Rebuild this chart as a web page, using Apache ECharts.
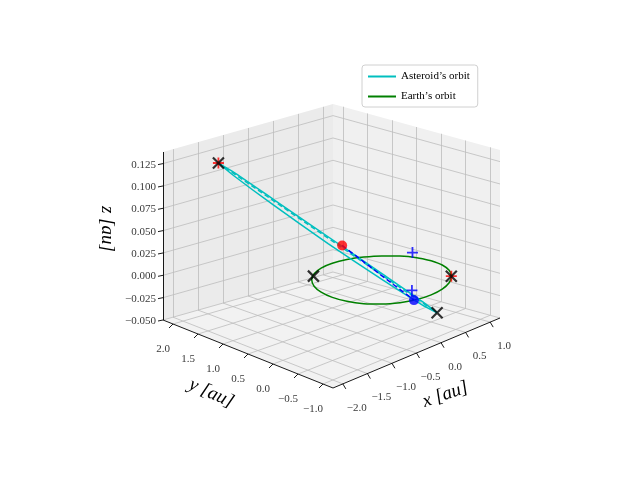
<!DOCTYPE html>
<html><head><meta charset="utf-8">
<script src="https://cdn.jsdelivr.net/npm/echarts@6/dist/echarts.min.js"></script>
<style>html,body{margin:0;padding:0;background:#fff}#c{width:640px;height:480px}</style>
</head><body><div id="c"></div>
<script>
// ---- data ----
const xTicks = [-2.0,-1.5,-1.0,-0.5,0.0,0.5,1.0];
const yTicks = [-1.0,-0.5,0.0,0.5,1.0,1.5,2.0];
const zTicks = [-0.05,-0.025,0.0,0.025,0.05,0.075,0.1,0.125];
const xTickLabels = ['−2.0','−1.5','−1.0','−0.5','0.0','0.5','1.0'];
const yTickLabels = ['−1.0','−0.5','0.0','0.5','1.0','1.5','2.0'];
const zTickLabels = ['−0.050','−0.025','0.000','0.025','0.050','0.075','0.100','0.125'];
const xRange = [-2.2, 1.2];
const yRange = [-1.2, 2.2];
const zRange = [-0.05, 0.138];
const earthOrbit = [[1,0,0],[.966,.259,0],[.866,.5,0],[.707,.707,0],[.5,.866,0],[.259,.966,0],[0,1,0],[-.259,.966,0],[-.5,.866,0],[-.707,.707,0],[-.866,.5,0],[-.966,.259,0],[-1,0,0],[-.966,-.259,0],[-.866,-.5,0],[-.707,-.707,0],[-.5,-.866,0],[-.259,-.966,0],[0,-1,0],[.259,-.966,0],[.5,-.866,0],[.707,-.707,0],[.866,-.5,0],[.966,-.259,0],[1,0,0]];
const asteroidOrbit = [[0.05,-1.07,-0.02],[-0.056,-0.88,-0.0085],[-0.365,-0.383,0.020],[-0.795,0.29,0.058],[-1.23,0.957,0.095],[-1.554,1.44,0.1215],[-1.68,1.61,0.13],[-1.574,1.42,0.1185],[-1.265,0.923,0.090],[-0.835,0.25,0.052],[-0.40,-0.417,0.0149],[-0.076,-0.90,-0.0115],[0.05,-1.07,-0.02]];
const apsidesLine = [[-1.68,1.61,0.13],[0.05,-1.07,-0.02]];
const asteroidPos = [-0.70,0.10,0.050];
const earthPos = [-0.30,-0.95,0.0];
const blueCrosses = [[0.95,0.33,0.005],[-0.15,-0.76,0.004]];
const blackX = [[-1.68,1.61,0.13],[-0.58,0.80,0],[0.71,-0.70,0],[0.05,-1.07,-0.02]];
const redCrosses = [[-1.68,1.61,0.13],[0.71,-0.70,0]];

// ---- projection ----
function P(p){
  const u=(p[0]-xRange[0])/(xRange[1]-xRange[0]);
  const v=(p[1]-yRange[0])/(yRange[1]-yRange[0]);
  const w=(p[2]-zRange[0])/(zRange[1]-zRange[0]);
  return [333+167*u-170*v+3*u*v, 388-70*u-68*v+22*u*v-168*w];
}
const X0=xRange[0],X1=xRange[1],Y0=yRange[0],Y1=yRange[1],Z0=zRange[0],Z1=zRange[1];
const panes=[
  {pts:[[X0,Y0,Z0],[X1,Y0,Z0],[X1,Y1,Z0],[X0,Y1,Z0]],c:'#f2f2f2'},
  {pts:[[X0,Y1,Z0],[X1,Y1,Z0],[X1,Y1,Z1],[X0,Y1,Z1]],c:'#ebebeb'},
  {pts:[[X1,Y0,Z0],[X1,Y1,Z0],[X1,Y1,Z1],[X1,Y0,Z1]],c:'#f0f0f0'}
];
const grid=[];
xTicks.forEach(t=>{grid.push([[t,Y0,Z0],[t,Y1,Z0]]);grid.push([[t,Y1,Z0],[t,Y1,Z1]]);});
yTicks.forEach(t=>{grid.push([[X0,t,Z0],[X1,t,Z0]]);grid.push([[X1,t,Z0],[X1,t,Z1]]);});
zTicks.forEach(t=>{grid.push([[X0,Y1,t],[X1,Y1,t]]);grid.push([[X1,Y1,t],[X1,Y0,t]]);});
const axes=[[[X0,Y0,Z0],[X1,Y0,Z0]],[[X0,Y0,Z0],[X0,Y1,Z0]],[[X0,Y1,Z0],[X0,Y1,Z1]]];
const ticks=[];
xTicks.forEach(t=>{const a=P([t,Y0,Z0]);ticks.push([a,[a[0]+3,a[1]+5]]);});
yTicks.forEach(t=>{const a=P([X0,t,Z0]);ticks.push([a,[a[0]-4,a[1]+4]]);});
zTicks.forEach(t=>{const a=P([X0,Y1,t]);ticks.push([a,[a[0]-5,a[1]+1]]);});

const serif='"Liberation Serif","DejaVu Serif",serif';
function labelScatter(pts,labels,dx,dy,align){
  return {type:'scatter',symbolSize:0,silent:true,z:5,
    data:pts.map((p,i)=>({value:p,label:{formatter:labels[i]}})),
    label:{show:true,position:'inside',offset:[dx,dy],align:align,verticalAlign:'middle',color:'#000',fontSize:11,fontFamily:serif}};
}
const xs='path://M0,0L10,10M10,0L0,10';
const ps='path://M5,0L5,10M0,5L10,5';
const series=[
  {type:'custom',silent:true,z:1,renderItem:(params,api)=>{
    const pn=panes[params.dataIndex];
    return {type:'polygon',shape:{points:pn.pts.map(q=>api.coord(P(q)))},style:{fill:pn.c,stroke:'none'}};
  },data:panes.map((p,i)=>[i,0])},
  {type:'lines',coordinateSystem:'cartesian2d',silent:true,z:2,lineStyle:{color:'#bcbcbc',width:0.8,opacity:1},
    data:grid.map(g=>({coords:[P(g[0]),P(g[1])]}))},
  {type:'lines',coordinateSystem:'cartesian2d',silent:true,z:3,lineStyle:{color:'#000',width:0.9,opacity:1},
    data:axes.map(g=>({coords:[P(g[0]),P(g[1])]})).concat(ticks.map(t=>({coords:t})))},
  labelScatter(xTicks.map(t=>P([t,Y0,Z0])),xTickLabels,14,24,'center'),
  labelScatter(yTicks.map(t=>P([X0,t,Z0])),yTickLabels,-10,25,'center'),
  labelScatter(zTicks.map(t=>P([X0,Y1,t])),zTickLabels,-7,1,'right'),
  {name:"Earth’s orbit",type:'line',smooth:0.3,symbol:'none',z:6,lineStyle:{color:'#008000',width:1.5},itemStyle:{color:'#008000'},data:earthOrbit.map(P)},
  {name:"Asteroid’s orbit",type:'line',smooth:0.2,symbol:'none',z:7,lineStyle:{color:'#00bfbf',width:1.5},itemStyle:{color:'#00bfbf'},data:asteroidOrbit.map(P)},
  {type:'line',symbol:'none',z:7,lineStyle:{color:'#00bfbf',width:1.5,type:[5,3]},data:apsidesLine.map(P)},
  {type:'line',symbol:'none',z:8,lineStyle:{color:'#0000ff',width:1.5,type:[5,3]},data:[asteroidPos,earthPos].map(P)},
  {type:'scatter',symbol:'circle',symbolSize:10,z:9,itemStyle:{color:'#ff0000'},data:[P(asteroidPos)]},
  {type:'scatter',symbol:'circle',symbolSize:10,z:9,itemStyle:{color:'#0000ff'},data:[P(earthPos)]},
  {type:'scatter',symbol:ps,symbolSize:11,z:9,itemStyle:{color:'none',borderColor:'#0000ff',borderWidth:1.8},data:blueCrosses.map(P)},
  {type:'scatter',symbol:ps,symbolSize:11,z:9,itemStyle:{color:'none',borderColor:'#ff0000',borderWidth:1.8},data:redCrosses.map(P)},
  {type:'scatter',symbol:xs,symbolSize:11,z:10,itemStyle:{color:'none',borderColor:'#000',borderWidth:2.2},data:blackX.map(P)}
];
const chart=echarts.init(document.getElementById('c'),null,{renderer:'canvas'});
chart.setOption({
  animation:false,
  grid:{left:0,right:0,top:0,bottom:0},
  xAxis:{type:'value',min:0,max:640,show:false},
  yAxis:{type:'value',min:0,max:480,inverse:true,show:false},
  legend:{data:["Asteroid’s orbit","Earth’s orbit"],left:362,top:65,orient:'vertical',icon:'rect',itemWidth:28,itemHeight:2,itemGap:9,
    backgroundColor:'#fff',borderColor:'#d0d0d0',borderWidth:1,borderRadius:3,padding:[6,8,5,6],
    textStyle:{fontFamily:serif,fontSize:11,color:'#000'}},
  graphic:[
    {type:'text',left:420,top:378,rotation:0.33,style:{text:'x [au]',font:'italic 19px '+serif,fill:'#000'}},
    {type:'text',left:186,top:375,rotation:-0.42,style:{text:'y [au]',font:'italic 19px '+serif,fill:'#000'}},
    {type:'text',x:116,y:206,rotation:-Math.PI/2,style:{text:'z [au]',font:'italic 19px '+serif,fill:'#000'}}
  ],
  series:series
});
</script></body></html>
